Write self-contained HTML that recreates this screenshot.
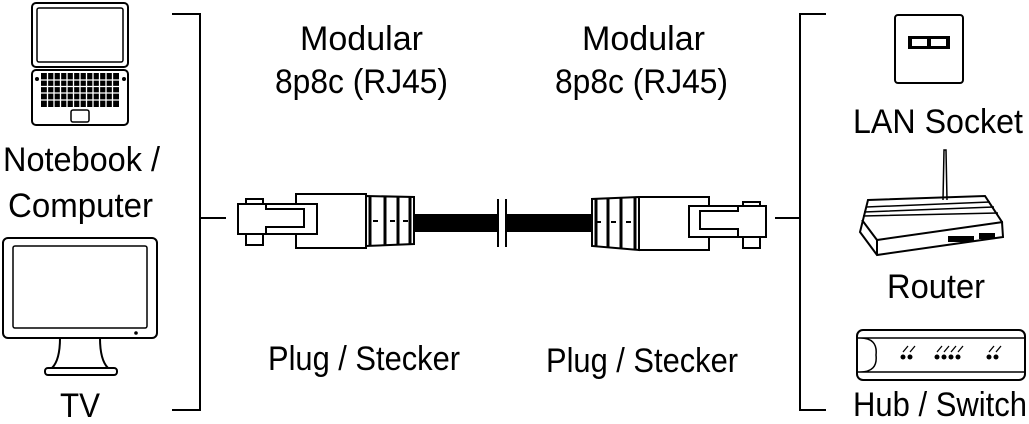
<!DOCTYPE html>
<html><head><meta charset="utf-8"><style>html,body{margin:0;padding:0;background:#fff}svg{display:block}</style></head>
<body>
<svg width="1029" height="424" viewBox="0 0 1029 424" xmlns="http://www.w3.org/2000/svg" font-family="Liberation Sans, sans-serif" font-size="34" fill="none" stroke="#000">
<!-- laptop -->
<rect x="32" y="3" width="96" height="64" rx="4" stroke-width="2"/>
<rect x="37" y="8" width="86" height="54" rx="2" stroke-width="1.5"/>
<rect x="32" y="70" width="96" height="55" rx="4" stroke-width="2"/>
<g fill="#000" stroke="none">
<circle cx="37" cy="79" r="2"/><circle cx="124" cy="79" r="2"/>
<rect x="41" y="73" width="78" height="34"/>
</g>
<g stroke="#fff" stroke-width="1.3">
<path d="M41 80h78M41 86.5h78M41 93h78M41 100h78"/>
<path d="M47.5 73v34M54 73v34M60.5 73v34M67 73v34M73.5 73v34M80 73v34M86.5 73v34M93 73v34M99.5 73v34M106 73v34M112.5 73v34"/>
</g>
<rect x="71" y="110" width="18" height="12" rx="2" stroke-width="1.5"/>
<!-- TV -->
<rect x="3" y="238" width="154" height="100" rx="5" stroke-width="2"/>
<rect x="13" y="246" width="134" height="82" rx="2" stroke-width="1.5"/>
<circle cx="136" cy="333" r="1.8" fill="#000" stroke="none"/>
<path d="M60 338 Q60 360 52 368 H108 Q100 360 100 338" stroke-width="2"/>
<rect x="45" y="368" width="72" height="7" rx="3" stroke-width="2"/>
<!-- brackets -->
<path d="M172 14H200V410H172M200 218H226" stroke-width="2"/>
<path d="M826 14H800V410H826M800 218H775" stroke-width="2"/>
<!-- left plug -->
<g stroke-width="2" fill="#fff">
<rect x="296" y="194" width="70" height="54"/>
<rect x="238" y="204" width="79" height="30"/>
<path d="M246 199h17v46h-17z"/>
<path d="M238 204h28v5h38v18h-38v7h-28z"/>
<path d="M366 196 L414 197 V244 L366 246Z"/>
</g>
<g stroke-width="3"><path d="M370 196v50M385 196v50M398 197v48M410 197v47"/></g>
<path d="M373 221h5M390 221h5M403 221h5" stroke-width="2"/>
<rect x="414" y="214" width="84" height="18" fill="#000" stroke="none"/>
<path d="M498 199v48M506 199v48" stroke-width="2"/>
<rect x="506" y="214" width="86" height="18" fill="#000" stroke="none"/>
<!-- right plug -->
<g stroke-width="2" fill="#fff">
<rect x="639" y="197" width="70" height="53"/>
<rect x="689" y="206" width="77" height="31"/>
<path d="M743 202h17v46h-17z"/>
<path d="M766 206h-28v5h-38v18h38v8h28z"/>
<path d="M639 197 L592 199 V246 L639 250Z"/>
</g>
<g stroke-width="3"><path d="M596 199v47M608 198v49M621 198v50M635 197v52"/></g>
<path d="M596 222h5M611 222h5M626 222h5" stroke-width="2"/>
<!-- LAN socket -->
<rect x="895" y="15" width="68" height="68" rx="3" stroke-width="2"/>
<rect x="908" y="36" width="42" height="13" fill="#000" stroke="none"/>
<rect x="912" y="39" width="15" height="7" fill="#fff" stroke="none"/>
<rect x="931" y="39" width="15" height="7" fill="#fff" stroke="none"/>
<!-- router -->
<path d="M943 200 L944 150 L946 150 L947 200" stroke-width="1.5"/>
<path d="M868 200 L985 196 L1002 222 L1003 237 L877 255 L860 232 Z" stroke-width="2"/>
<path d="M862 220 L877 240 L1003 222" stroke-width="2"/>
<path d="M877 240 V255" stroke-width="2"/>
<path d="M866 207 L990 202 M864 212 L994 207 M863 216 L998 213" stroke-width="1.5"/>
<rect x="948" y="236" width="26" height="6" fill="#000" stroke="none"/>
<rect x="979" y="233" width="16" height="6" fill="#000" stroke="none"/>
<!-- hub -->
<rect x="857" y="330" width="168" height="50" rx="6" stroke-width="2"/>
<path d="M857 338 H1025 M857 372 H1025 M860 338 Q878 338 876 355 Q878 372 860 372" stroke-width="1.5"/>
<g fill="#000" stroke="none">
<circle cx="903" cy="357" r="2.5"/><circle cx="910" cy="357" r="2.5"/>
<circle cx="937" cy="357" r="2.5"/><circle cx="944" cy="357" r="2.5"/><circle cx="951" cy="357" r="2.5"/><circle cx="958" cy="357" r="2.5"/>
<circle cx="989" cy="357" r="2.5"/><circle cx="996" cy="357" r="2.5"/>
</g>
<path d="M903 352l5-6M910 352l5-6M937 352l5-6M944 352l5-6M951 352l5-6M958 352l5-6M989 352l5-6M996 352l5-6" stroke-width="1.3"/>
<!-- text -->
<g fill="#000" stroke="none">
<text x="3" y="171" textLength="157" lengthAdjust="spacingAndGlyphs">Notebook /</text>
<text x="8" y="217" textLength="145" lengthAdjust="spacingAndGlyphs">Computer</text>
<text x="60" y="417" textLength="40" lengthAdjust="spacingAndGlyphs">TV</text>
<text x="300" y="50" textLength="123" lengthAdjust="spacingAndGlyphs">Modular</text>
<text x="275" y="93" textLength="173" lengthAdjust="spacingAndGlyphs">8p8c (RJ45)</text>
<text x="582" y="50" textLength="123" lengthAdjust="spacingAndGlyphs">Modular</text>
<text x="555" y="93" textLength="173" lengthAdjust="spacingAndGlyphs">8p8c (RJ45)</text>
<text x="268" y="370" textLength="192" lengthAdjust="spacingAndGlyphs">Plug / Stecker</text>
<text x="546" y="372" textLength="192" lengthAdjust="spacingAndGlyphs">Plug / Stecker</text>
<text x="853" y="133" textLength="170" lengthAdjust="spacingAndGlyphs">LAN Socket</text>
<text x="887" y="298" textLength="98" lengthAdjust="spacingAndGlyphs">Router</text>
<text x="853" y="416" textLength="174" lengthAdjust="spacingAndGlyphs">Hub / Switch</text>
</g>
</svg>
</body></html>
